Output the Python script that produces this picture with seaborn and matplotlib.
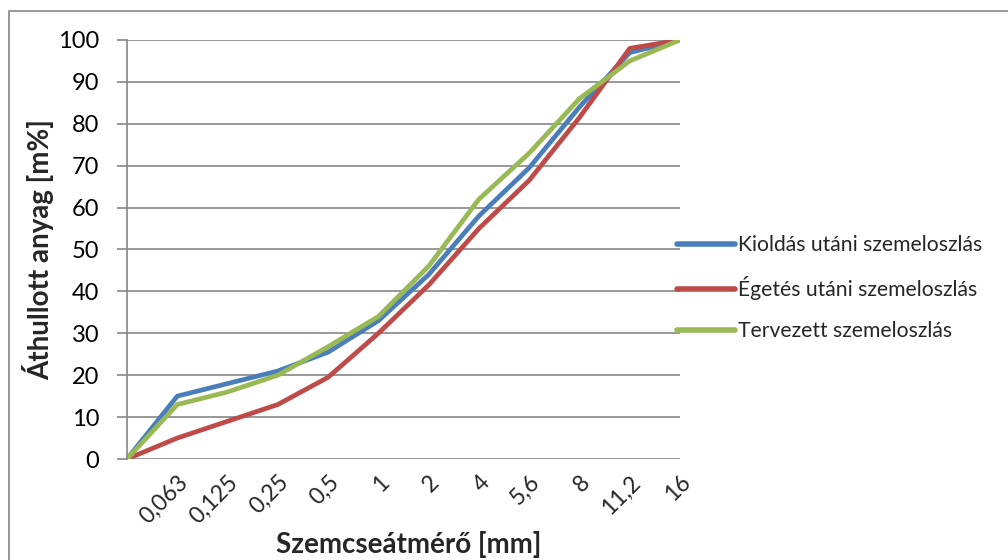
import matplotlib
matplotlib.use("Agg")
import matplotlib.pyplot as plt
import seaborn as sns
import pandas as pd
from matplotlib.patches import Rectangle

# Sieve sizes (first point is the origin without a label)
sieve_labels = ["", "0,063", "0,125", "0,25", "0,5", "1", "2", "4", "5,6", "8", "11,2", "16"]

# Passing material [m%] per series
kioldas = [0, 15, 18, 21, 25.5, 33, 44, 58, 69.5, 84, 97, 100]
egetes = [0, 5, 9, 13, 19.5, 30, 41.5, 55, 66.5, 81.5, 98, 100]
tervezett = [0, 13, 16, 20, 26.8, 34, 46, 62, 73, 86, 95, 100]

series_names = ["Kioldás utáni szemeloszlás", "Égetés utáni szemeloszlás", "Tervezett szemeloszlás"]
series_values = [kioldas, egetes, tervezett]
colors = ["#4A7EBB", "#BE4B48", "#98B954"]

rows = []
for name, vals in zip(series_names, series_values):
    for i, v in enumerate(vals):
        rows.append({"pos": i, "value": v, "series": name})
df = pd.DataFrame(rows)

sns.set_theme(style="white")
plt.rcParams["font.family"] = ["Lato", "DejaVu Sans"]

fig = plt.figure(figsize=(10.08, 5.6), dpi=100)
ax = fig.add_axes([127 / 1008, 1 - 459 / 560, (680 - 127) / 1008, (459 - 40) / 560])

# outer chart frame
fig.patches.append(Rectangle((9 / 1008, -0.1), 1.2, 1 - 11 / 560 + 0.1, transform=fig.transFigure,
                             fill=False, edgecolor="#868686", linewidth=1.2, zorder=0))

sns.lineplot(data=df, x="pos", y="value", hue="series", hue_order=series_names,
             palette=colors, linewidth=3.4, ax=ax, legend=True)

ax.set_xlim(0, len(sieve_labels) - 1)
ax.set_ylim(0, 100)
ax.set_yticks(range(0, 101, 10))
ax.set_xticks(range(len(sieve_labels)))
ax.set_xticklabels(sieve_labels, rotation=45, ha="right", va="top", rotation_mode="anchor", fontsize=16.5)
ax.tick_params(axis="y", labelsize=17, length=7, width=1.2, color="#868686", direction="out", pad=13,
               left=True)
ax.tick_params(axis="x", length=0, pad=9)
for lbl in ax.get_yticklabels():
    lbl.set_color("black")

ax.grid(axis="y", color="#868686", linewidth=1.2)
ax.set_axisbelow(True)
for side in ["top", "right", "bottom"]:
    ax.spines[side].set_visible(False)
ax.spines["left"].set_color("#868686")
ax.spines["left"].set_linewidth(1.2)

ax.set_xlabel("Szemcseátmérő [mm]", fontsize=20, fontweight="bold")
ax.xaxis.set_label_coords((409 - 127) / (680 - 127), -(544 - 459) / (459 - 40))
ax.xaxis.label.set_va("center")
ax.set_ylabel("Áthullott anyag [m%]", fontsize=20, fontweight="bold", labelpad=3)

handles, labels = ax.get_legend_handles_labels()
leg = ax.legend(handles, labels, loc="center left", bbox_to_anchor=(677 / 1008, 1 - 288 / 560),
                bbox_transform=fig.transFigure, frameon=False, fontsize=15.2, handlelength=2.75,
                handletextpad=0.15, labelspacing=1.0, borderaxespad=0, borderpad=0)
for line in leg.get_lines():
    line.set_linewidth(4)
    line.set_solid_capstyle("round")

fig.savefig("out.png", dpi=100)
